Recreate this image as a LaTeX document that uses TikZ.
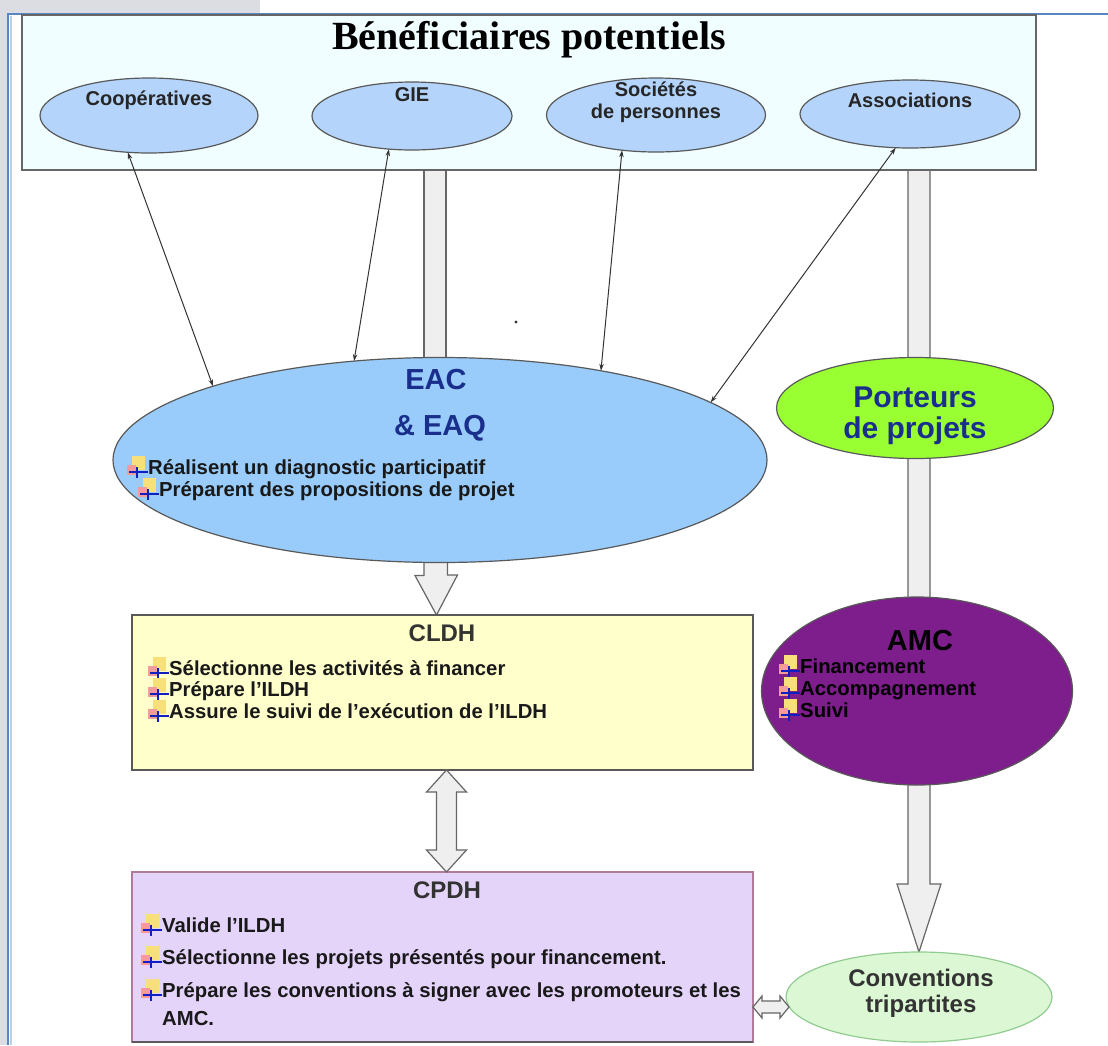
\documentclass[tikz,border=0pt]{standalone}
\usepackage{fontspec}
\setmainfont{Liberation Serif}
\setsansfont{Liberation Sans}
\usetikzlibrary{shapes.geometric,arrows.meta,calc,backgrounds}

\definecolor{fondgris}{HTML}{DCDDE2}
\definecolor{cadrebleu}{HTML}{5B86C4}
\definecolor{fondbenef}{HTML}{F0FEFF}
\definecolor{bleuclair}{HTML}{B4D4FB}
\definecolor{bleueac}{HTML}{99CCFA}
\definecolor{vertporteur}{HTML}{99FF33}
\definecolor{violetamc}{HTML}{7E1E8C}
\definecolor{jaunecldh}{HTML}{FFFFCC}
\definecolor{lilascpdh}{HTML}{E4D4FA}
\definecolor{bordcpdh}{HTML}{B07A9A}
\definecolor{vertconv}{HTML}{DCF7D4}
\definecolor{bordconv}{HTML}{90CC90}
\definecolor{grisbloc}{HTML}{EFEFEF}
\definecolor{bleunuit}{HTML}{1A2F8C}
\definecolor{iconjaune}{HTML}{F7E07A}
\definecolor{iconrouge}{HTML}{F08080}
\definecolor{iconbleu}{HTML}{1020C0}

% petite icone devant chaque puce
\newcommand{\bul}{\tikz[baseline=0pt,x=1pt,y=1pt]{%
  \fill[iconjaune] (5,4) rectangle (18,18);
  \fill[iconrouge!80] (0,-1) rectangle (9,9);
  \fill[iconbleu] (2,0.6) rectangle (21,2.6);
  \fill[iconbleu] (8.8,-4) rectangle (11.2,7);}}

\tikzset{
  forme/.style={draw=black!65, line width=1.2pt, inner sep=0pt, outer sep=0pt},
  petite/.style={forme, ellipse, fill=bleuclair, minimum width=218pt, minimum height=74pt},
  boite/.style={forme, rectangle, minimum width=621pt},
  etiq/.style={font=\sffamily\bfseries\fontsize{20}{22}\selectfont, text=black!85, align=center, inner sep=0pt},
  puce/.style={anchor=base west, inner sep=0pt, font=\sffamily\bfseries\fontsize{20.3}{22}\selectfont, text=black!90},
  titre/.style={font=\bfseries\fontsize{40}{42}\selectfont, inner sep=0pt},
  grandtitre/.style={font=\sffamily\bfseries\fontsize{29}{31}\selectfont, text=bleunuit, inner sep=0pt, align=center},
  soustitre/.style={font=\sffamily\bfseries\fontsize{24}{26}\selectfont, text=black!80, inner sep=0pt, align=center},
  bloc/.style={draw=black!60, fill=grisbloc, line width=1.2pt, line join=miter},
  fin/.style={draw=black!80, line width=1pt, >={Stealth[length=7pt,width=4.5pt]}, <->}
}

\begin{document}
\begin{tikzpicture}[x=1pt,y=-1pt]
  \useasboundingbox (0,0) rectangle (1108,1045);
  % cadre de la page
  \fill[fondgris] (0,0) rectangle (260,13);
  \fill[fondgris] (0,0) rectangle (7,1045);
  \draw[cadrebleu, line width=2pt] (7,14) -- (1108,14);
  \draw[cadrebleu, line width=2pt] (8,14) -- (8,1045);
  \draw[cadrebleu!40, line width=1.5pt] (11,16) -- (11,1045);

  % beneficiaires potentiels
  \node[forme, fill=fondbenef, draw=black!60, minimum width=1014pt, minimum height=155pt] (benef) at (529,92.5) {};
  \node[titre] (benefT) at (529,40) {Bénéficiaires potentiels};
  \node[petite, minimum height=75pt] (coop) at (149,115.5) {};
  \node[petite, minimum width=200pt, minimum height=68pt] (gie) at (412,116) {};
  \node[petite, minimum width=219pt] (soc) at (656,115) {};
  \node[petite, minimum width=220pt, minimum height=68pt] (asso) at (910,114) {};
  \node[etiq] (coopT) at (149,100) {Coopératives};
  \node[etiq] (gieT) at (412,95) {GIE};
  \node[etiq] (socT) at (656,102) {Sociétés\\de personnes};
  \node[etiq] (assoT) at (910,100) {Associations};

  % EAC et porteurs
  \node[forme, ellipse, fill=bleueac, minimum width=654pt, minimum height=205pt] (eac) at (440,460) {};
  \node[grandtitre] (eacT) at (436,380) {EAC};
  \node[grandtitre] (eaqT) at (440,428) {\& EAQ};
  \node[puce] (eac1) at (127,474) {\bul Réalisent un diagnostic participatif};
  \node[puce] (eac2) at (138,496) {\bul Préparent des propositions de projet};
  \node[forme, ellipse, fill=vertporteur, minimum width=277pt, minimum height=101pt] (port) at (915,408) {};
  \node[grandtitre, font=\sffamily\bfseries\fontsize{30}{31}\selectfont] (portT) at (915,416) {Porteurs\\de projets};

  % CLDH
  \node[boite, fill=jaunecldh, minimum height=155pt] (cldh) at (442.5,692.5) {};
  \node[soustitre] (cldhT) at (442,633) {CLDH};
  \node[puce] (cldh1) at (148,675) {\bul Sélectionne les activités à financer};
  \node[puce] (cldh2) at (148,696) {\bul Prépare l’ILDH};
  \node[puce] (cldh3) at (148,718) {\bul Assure le suivi de l’exécution de l’ILDH};

  % AMC
  \node[forme, ellipse, fill=violetamc, minimum width=311pt, minimum height=188pt] (amc) at (917,691) {};
  \node[soustitre, text=black, font=\sffamily\bfseries\fontsize{29}{30}\selectfont] (amcT) at (920,641) {AMC};
  \node[puce, text=black] (amc1) at (779,673) {\bul Financement};
  \node[puce, text=black] (amc2) at (779,695) {\bul Accompagnement};
  \node[puce, text=black] (amc3) at (779,717) {\bul Suivi};

  % CPDH
  \node[boite, fill=lilascpdh, draw=bordcpdh, minimum height=170pt] (cpdh) at (442.5,957) {};
  \draw[black!65, line width=1.5pt] (cpdh.south west) -- (cpdh.south east);
  \node[soustitre] (cpdhT) at (447,890) {CPDH};
  \node[puce] (cpdh1) at (141,932) {\bul Valide l’ILDH};
  \node[puce] (cpdh2) at (141,964) {\bul Sélectionne les projets présentés pour financement.};
  \node[puce] (cpdh3) at (141,997) {\bul Prépare les conventions à signer avec les promoteurs et les};
  \node[puce] (cpdh4) at (162,1025) {AMC.};

  % conventions
  \node[forme, ellipse, fill=vertconv, draw=bordconv, minimum width=266pt, minimum height=90pt] (conv) at (919,997) {};
  \node[soustitre] (convT) at (921,993) {Conventions\\tripartites};

  % fleches larges
  \begin{scope}[on background layer]
    \draw[bloc] (benef.south -| 424,0) rectangle ($(eac.north)+(6,5)$);
    \draw[bloc] ($(benef.south -| conv.north)+(-11,0)$) -- ($(conv.north)+(-11,-68)$) -- ++(-11,0)
      -- (conv.north) -- ++(22,-68) -- ++(-11,0) -- ($(benef.south -| conv.north)+(11,0)$) -- cycle;
    \draw[bloc] ($(eac.south)+(-16,-4)$) -- ++(0,17) -- ++(-9,0) -- ($(cldh.north)+(-6,0)$)
      -- ++(21,-40) -- ++(-10,0) -- ++(0,-17) -- cycle;
  \end{scope}
  \draw[bloc] ($(cldh.south)+(4,0)$) -- ++(20,22) -- ++(-10,0) -- ++(0,58) -- ++(10,0)
    -- ($(cpdh.north)+(4,0)$) -- ++(-20,-22) -- ++(10,0) -- ++(0,-58) -- ++(-10,0) -- cycle;
  \draw[bloc] ($(cpdh.east |- conv.west)+(0,10)$) -- ++(9,-11) -- ++(0,5) -- ++(18,0) -- ++(0,-5)
    -- ($(conv.west)+(3,10)$) -- ++(-9,11) -- ++(0,-5) -- ++(-18,0) -- ++(0,5) -- cycle;

  % liens fins
  \draw[fin] (coop.240) -- (eac.162);
  \draw[fin] (gie.235) -- (eac.131);
  \draw[fin] (soc.226) -- (eac.29);
  \draw[fin] (asso.247) -- (eac.12);
  \fill[black!80] (516,322) circle (1.6pt);
\end{tikzpicture}
\end{document}
